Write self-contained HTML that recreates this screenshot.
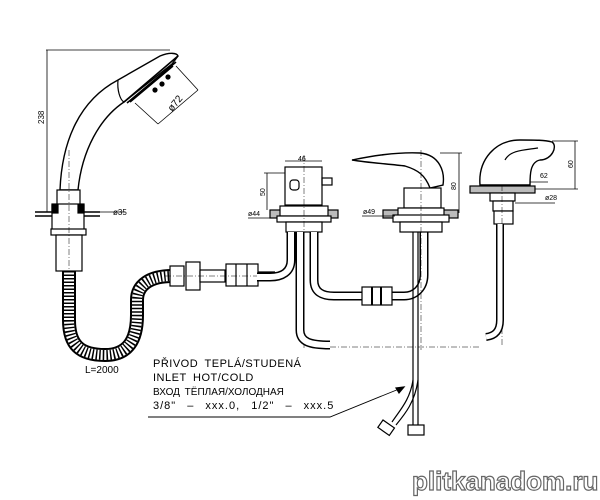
<!DOCTYPE html>
<html><head><meta charset="utf-8"><style>
html,body{margin:0;padding:0;background:#fff;width:600px;height:500px;overflow:hidden}
svg{display:block}
text{font-family:"Liberation Sans","DejaVu Sans",sans-serif;fill:#000}
.wm{font-family:"Liberation Sans",sans-serif;font-weight:bold;font-size:26px;fill:#fff;stroke:#666;stroke-width:1.2px}
</style></head><body>
<svg width="600" height="500" viewBox="0 0 600 500" xmlns="http://www.w3.org/2000/svg" fill="none" stroke="#000" stroke-width="1.2">
<line x1="46" y1="50" x2="170" y2="50" stroke-width="0.8"/>
<line x1="47" y1="50" x2="47" y2="212" stroke-width="0.8"/>
<text x="0" y="0" font-size="8" stroke="none" transform="translate(44,124) rotate(-90)">238</text>
<path d="M60,190 C62,140 80,100 118,80 L160,56 C170,52 177,53 178,56 L172,64 L124,102 C100,118 82,150 78,190 Z" stroke-width="1.4" fill="#fff"/>
<path d="M118,80 C117,90 120,100 124,102" />
<path d="M124,102 L178,56 M127,103 L176,62 M130,102 L173,66" stroke-width="1.6"/>
<circle cx="155" cy="90" r="2" fill="#000"/><circle cx="162" cy="84" r="2" fill="#000"/><circle cx="168" cy="77" r="2" fill="#000"/>
<line x1="176" y1="66" x2="198" y2="90" stroke-width="0.8"/>
<line x1="135" y1="103" x2="158" y2="124" stroke-width="0.8"/>
<line x1="158" y1="124" x2="198" y2="90" stroke-width="0.8"/>
<text x="0" y="0" font-size="10" stroke="none" transform="translate(172,112) rotate(-50)">ø72</text>
<rect x="57" y="190" width="23" height="16" fill="#fff"/>
<path d="M35,212 L100,212 M35,216 L100,216" stroke-width="1.5"/>
<rect x="52" y="204" width="32" height="26" fill="#fff"/>
<rect x="52" y="205" width="6" height="8" fill="#000"/><rect x="78" y="205" width="6" height="8" fill="#000"/>
<rect x="51" y="229" width="35" height="6" fill="#fff"/>
<rect x="56" y="235" width="26" height="36" fill="#fff"/>
<line x1="69" y1="150" x2="69" y2="275" stroke-width="0.5" stroke-dasharray="6,2,1,2"/>
<line x1="100" y1="212" x2="125" y2="212" stroke-width="0.8"/>
<text x="113" y="215" font-size="8" stroke="none">ø35</text>
<path d="M69,271 L69,320 C69,345 80,355 105,355 C128,355 137,340 137,315 L137,300 C137,285 150,276 172,276" stroke-width="14"/>
<path d="M69,271 L69,320 C69,345 80,355 105,355 C128,355 137,340 137,315 L137,300 C137,285 150,276 172,276" stroke="#fff" stroke-width="10"/>
<path d="M69,271 L69,320 C69,345 80,355 105,355 C128,355 137,340 137,315 L137,300 C137,285 150,276 172,276" stroke-width="10" stroke-dasharray="1.5,2"/>
<text x="85" y="373" font-size="10" stroke="none">L=2000</text>
<rect x="170" y="266" width="14" height="20" fill="#fff"/>
<rect x="186" y="262" width="14" height="28" fill="#fff"/>
<rect x="200" y="270" width="25" height="12" fill="#fff"/>
<rect x="226" y="264" width="32" height="22" fill="#fff"/>
<line x1="236" y1="264" x2="236" y2="286"/><line x1="247" y1="264" x2="247" y2="286"/>
<line x1="258" y1="272" x2="275" y2="272"/><line x1="258" y1="279" x2="275" y2="279"/>
<line x1="165" y1="276" x2="270" y2="276" stroke-width="0.5" stroke-dasharray="6,2,1,2"/>
<rect x="285" y="167" width="37" height="38" fill="#fff"/>
<rect x="290" y="180" width="9" height="10" rx="3"/>
<rect x="322" y="178" width="10" height="7"/>
<line x1="285" y1="161" x2="322" y2="161" stroke-width="0.8"/>
<text x="298" y="161" font-size="7" stroke="none">46</text>
<line x1="267" y1="173" x2="267" y2="210" stroke-width="0.8"/>
<line x1="264" y1="173" x2="285" y2="173" stroke-width="0.8"/>
<text x="0" y="0" font-size="7" stroke="none" transform="translate(265,196) rotate(-90)">50</text>
<rect x="270" y="210" width="68" height="8" fill="#bbb"/>
<rect x="280" y="206" width="48" height="10" fill="#fff"/>
<rect x="277" y="216" width="54" height="6" fill="#fff"/>
<rect x="286" y="222" width="36" height="10" fill="#fff"/>
<line x1="248" y1="218" x2="275" y2="218" stroke-width="0.8"/>
<text x="248" y="216" font-size="7" stroke="none">ø44</text>
<line x1="304" y1="155" x2="304" y2="350" stroke-width="0.5" stroke-dasharray="6,2,1,2"/>
<path d="M291,232 L291,260 C291,272 282,277 270,277 L257,277" stroke-width="9"/>
<path d="M291,232 L291,260 C291,272 282,277 270,277 L257,277" stroke="#fff" stroke-width="6"/>
<path d="M300,232 L300,330 C300,342 310,345 330,345" stroke-width="9"/>
<path d="M300,232 L300,330 C300,342 310,345 330,345" stroke="#fff" stroke-width="6"/>
<path d="M314,232 L314,280 C314,292 322,296 334,296 L362,296" stroke-width="9"/>
<path d="M314,232 L314,280 C314,292 322,296 334,296 L362,296" stroke="#fff" stroke-width="6"/>
<path d="M390,296 L404,296 C415,296 424,288 424,275 L424,232" stroke-width="9"/>
<path d="M390,296 L404,296 C415,296 424,288 424,275 L424,232" stroke="#fff" stroke-width="6"/>
<rect x="362" y="287" width="30" height="18" fill="#fff"/>
<line x1="372" y1="287" x2="372" y2="305" stroke-width="2"/><line x1="381" y1="287" x2="381" y2="305" stroke-width="2"/>
<path d="M352,160 C372,156 395,152 420,153 C440,155 445,172 443,185 L430,188 C425,175 418,170 405,166 C390,164 370,163 352,160 Z" fill="#fff" stroke-width="1.4"/>
<rect x="404" y="188" width="37" height="20" fill="#fff"/>
<rect x="383" y="210" width="75" height="8" fill="#bbb"/>
<rect x="398" y="208" width="46" height="8" fill="#fff"/>
<rect x="393" y="215" width="56" height="7" fill="#fff"/>
<rect x="400" y="222" width="42" height="10" fill="#fff"/>
<line x1="440" y1="153" x2="462" y2="153" stroke-width="0.8"/>
<line x1="459" y1="153" x2="459" y2="213" stroke-width="0.8"/>
<text x="0" y="0" font-size="7" stroke="none" transform="translate(456,190) rotate(-90)">80</text>
<line x1="362" y1="216" x2="395" y2="216" stroke-width="0.8"/>
<text x="363" y="214" font-size="7" stroke="none">ø49</text>
<line x1="421" y1="150" x2="421" y2="350" stroke-width="0.5" stroke-dasharray="6,2,1,2"/>
<line x1="413" y1="232" x2="413" y2="426"/><line x1="418" y1="232" x2="418" y2="426"/>
<path d="M413,380 C410,400 400,410 392,422 M418,380 C415,402 405,414 396,425"/>
<rect x="408" y="425" width="16" height="10" fill="#fff"/>
<rect x="0" y="0" width="14" height="9" fill="#fff" transform="translate(383,420) rotate(35)"/>
<line x1="330" y1="347" x2="480" y2="347" stroke-width="0.5" stroke-dasharray="6,2,1,2"/>
<path d="M480,185 C478,160 495,140 520,140 C535,140 545,140 552,142 C558,146 552,160 540,160 C530,162 530,175 530,185 Z" fill="#fff" stroke-width="1.4"/>
<path d="M505,160 C510,150 525,150 538,148"/>
<rect x="470" y="186" width="65" height="7" fill="#bbb"/>
<rect x="490" y="193" width="25" height="8" fill="#fff"/>
<rect x="493" y="201" width="20" height="10" fill="#fff"/>
<rect x="494" y="211" width="19" height="13" fill="#fff"/>
<line x1="502" y1="185" x2="502" y2="345" stroke-width="0.5" stroke-dasharray="6,2,1,2"/>
<path d="M500,224 L500,320 C500,332 494,336 486,337" stroke-width="8"/>
<path d="M500,224 L500,320 C500,332 494,336 486,337" stroke="#fff" stroke-width="5"/>
<line x1="530" y1="182" x2="548" y2="182" stroke-width="0.8"/>
<text x="540" y="178" font-size="7" stroke="none">62</text>
<line x1="515" y1="203" x2="555" y2="203" stroke-width="0.8"/>
<text x="545" y="200" font-size="7" stroke="none">ø28</text>
<line x1="552" y1="141" x2="578" y2="141" stroke-width="0.8"/>
<line x1="575" y1="141" x2="575" y2="189" stroke-width="0.8"/>
<line x1="535" y1="189" x2="578" y2="189" stroke-width="0.8"/>
<text x="0" y="0" font-size="7" stroke="none" transform="translate(573,168) rotate(-90)">60</text>
<g stroke="none" font-size="11">
<text x="153" y="367" letter-spacing="0.5" word-spacing="3">PŘIVOD TEPLÁ/STUDENÁ</text>
<text x="153" y="381" letter-spacing="0.5" word-spacing="3">INLET HOT/COLD</text>
<text x="153" y="395" font-size="10" word-spacing="2">ВХОД ТЁПЛАЯ/ХОЛОДНАЯ</text>
<text x="153" y="409" letter-spacing="1" word-spacing="7">3/8" – xxx.0, 1/2" – xxx.5</text>
</g>
<path d="M148,417 L330,417 L404,387" stroke-width="0.9"/>
<path d="M404,387 L396,388 L399,393 Z" fill="#000"/>
<text class="wm" x="412" y="490">plitkanadom.ru</text>
</svg>
</body></html>
